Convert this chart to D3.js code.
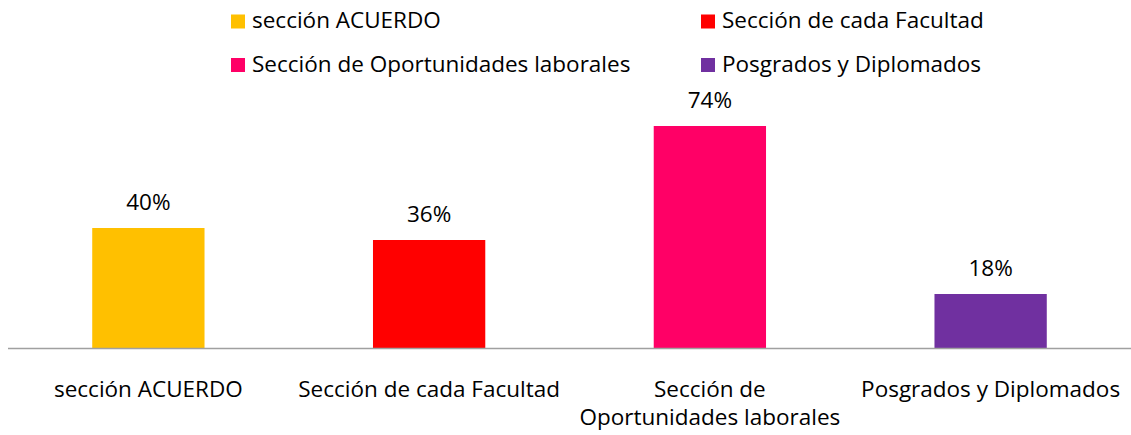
<!DOCTYPE html>
<html>
<head>
<meta charset="utf-8">
<script src="https://cdn.jsdelivr.net/npm/d3@7"></script>
<style>
  body { margin: 0; background: #fff; }
  text { font-family: "Open Sans", sans-serif; fill: #000; }
</style>
</head>
<body>
<div id="chart"></div>
<script>
// data
const categories = ["sección ACUERDO", "Sección de cada Facultad", "Sección de Oportunidades laborales", "Posgrados y Diplomados"];
const tickLabels = [["sección ACUERDO"], ["Sección de cada Facultad"], ["Sección de", "Oportunidades laborales"], ["Posgrados y Diplomados"]];
const values = [0.40, 0.36, 0.74, 0.18];
const colors = ["#FFC000", "#FF0000", "#FF0066", "#7030A0"];

const W = 1131, H = 435;
const margin = { top: 48, right: 0, bottom: 87, left: 8 };
const baseY = H - margin.bottom;

const svg = d3.select("#chart").append("svg")
    .attr("width", W)
    .attr("height", H);

const x = d3.scaleBand()
    .domain(categories)
    .range([margin.left, W - margin.right])
    .paddingInner(0.6)
    .paddingOuter(0.3);

const y = d3.scaleLinear()
    .domain([0, 1])
    .range([baseY, margin.top]);

// bars
svg.append("g")
    .selectAll("rect")
    .data(categories)
    .enter()
    .append("rect")
    .attr("x", d => x(d))
    .attr("y", (d, i) => y(values[i]))
    .attr("width", x.bandwidth())
    .attr("height", (d, i) => baseY - y(values[i]))
    .attr("fill", (d, i) => colors[i]);

// value labels
svg.append("g")
    .selectAll("text")
    .data(categories)
    .enter()
    .append("text")
    .attr("x", d => x(d) + x.bandwidth() / 2)
    .attr("y", (d, i) => y(values[i]) - 18)
    .attr("text-anchor", "middle")
    .style("font-size", "22.5px")
    .text((d, i) => d3.format(".0%")(values[i]));

// axis line
svg.append("line")
    .attr("x1", margin.left)
    .attr("x2", W)
    .attr("y1", baseY + 0.5)
    .attr("y2", baseY + 0.5)
    .attr("stroke", "#a0a0a0")
    .attr("stroke-width", 1.5);

// category labels (one text per line)
const lineH = 28;
svg.append("g")
    .selectAll("g")
    .data(categories)
    .enter()
    .append("g")
    .each(function(d, i) {
        const g = d3.select(this);
        tickLabels[i].forEach((s, j) => {
            g.append("text")
                .attr("x", x(d) + x.bandwidth() / 2)
                .attr("y", baseY + 49 + j * lineH)
                .attr("text-anchor", "middle")
                .style("font-size", "22.5px")
                .text(s);
        });
    });

// legend
const legendItems = categories.map((c, i) => ({ name: c, color: colors[i] }));
const legend = svg.append("g")
    .selectAll("g")
    .data(legendItems)
    .enter()
    .append("g")
    .attr("transform", (d, i) => `translate(${i % 2 ? 701 : 231},${i < 2 ? 14.5 : 58})`);

legend.append("rect")
    .attr("width", 14)
    .attr("height", 14)
    .attr("fill", d => d.color);

legend.append("text")
    .attr("x", 21)
    .attr("y", 13.5)
    .style("font-size", "22.5px")
    .text(d => d.name);
</script>
</body>
</html>
